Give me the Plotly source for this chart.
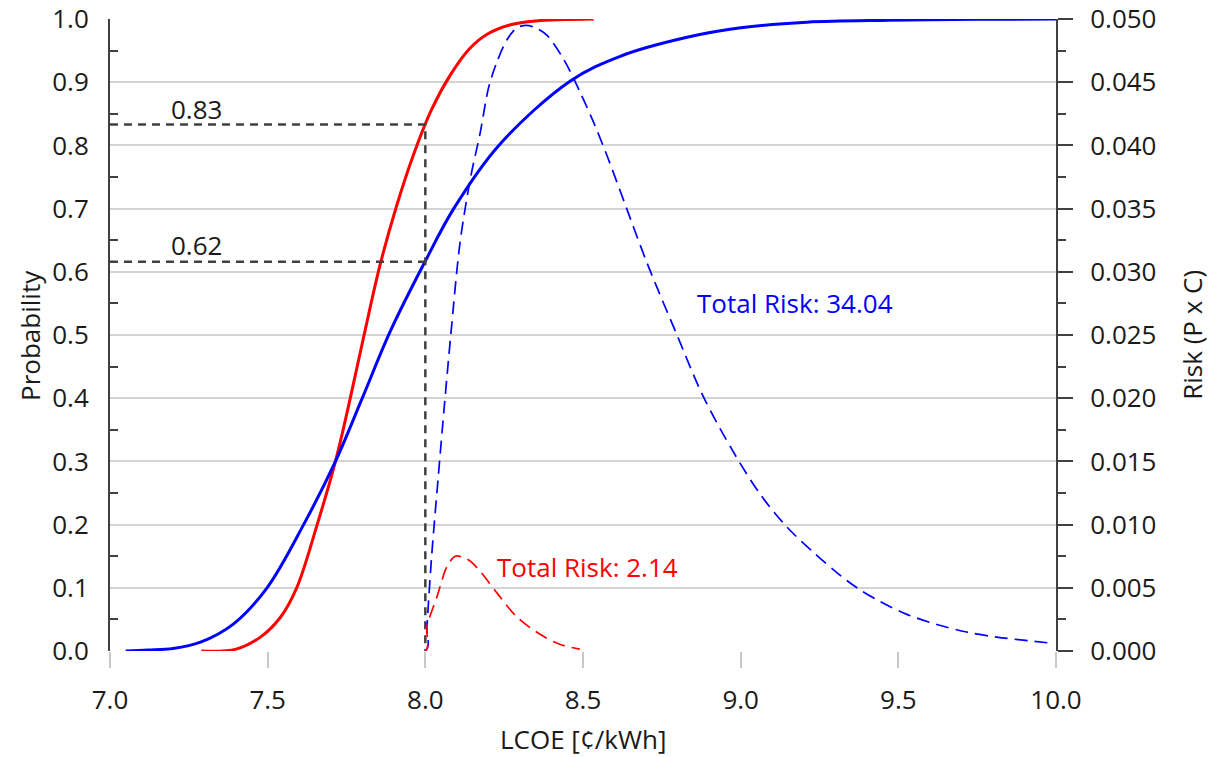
import plotly.graph_objects as go

# ---- data ----
# Cumulative probability curves (left axis)
blue_cdf_x = [7.05, 7.12, 7.20, 7.287, 7.392, 7.498, 7.614, 7.715, 7.80, 7.889, 8.00, 8.09,
              8.233, 8.46, 8.618, 8.83, 9.00, 9.21, 9.47, 9.75, 10.0]
blue_cdf_p = [0.0, 0.0015, 0.004, 0.014, 0.043, 0.10, 0.20, 0.30, 0.40, 0.506, 0.617, 0.70,
              0.80, 0.902, 0.941, 0.971, 0.986, 0.995, 0.998, 0.9995, 1.0]

red_cdf_x = [7.29, 7.40, 7.477, 7.54, 7.592, 7.657, 7.715, 7.762, 7.808, 7.857, 7.91, 7.963,
             8.02, 8.08, 8.14, 8.20, 8.27, 8.35, 8.534]
red_cdf_p = [0.0, 0.003, 0.022, 0.053, 0.10, 0.20, 0.30, 0.40, 0.505, 0.612, 0.706, 0.786,
             0.857, 0.912, 0.953, 0.977, 0.991, 0.997, 1.0]

# Risk curves (right axis, P x C)
blue_risk_x = [7.05, 8.00, 8.005, 8.02, 8.04, 8.06, 8.08, 8.11, 8.143, 8.174, 8.20, 8.227,
               8.26, 8.29, 8.32, 8.35, 8.386, 8.439, 8.491, 8.534, 8.576, 8.64, 8.703, 8.798,
               8.882, 8.978, 9.062, 9.147, 9.231, 9.305, 9.369, 9.443, 9.527, 9.622, 9.717,
               9.812, 9.918, 9.992]
blue_risk_r = [0.0, 0.0, 0.0019, 0.0075, 0.0135, 0.0193, 0.0248, 0.0323, 0.0374, 0.0410,
               0.0445, 0.0466, 0.0484, 0.0493, 0.0495, 0.0493, 0.0487, 0.0468, 0.0442, 0.0418,
               0.0392, 0.0349, 0.0307, 0.0250, 0.0201, 0.0157, 0.0124, 0.0098, 0.0078, 0.0062,
               0.0050, 0.0039, 0.0029, 0.0021, 0.0015, 0.0011, 0.0008, 0.0006]

red_risk_x = [7.29, 8.00, 8.005, 8.037, 8.069, 8.095, 8.12, 8.143, 8.174, 8.227, 8.29,
              8.365, 8.43, 8.49]
red_risk_r = [0.0, 0.0, 0.0019, 0.0043, 0.0067, 0.0075, 0.0074, 0.0071, 0.0063, 0.0046,
              0.0027, 0.0013, 0.0005, 0.00015]

# Reference markers
ref_lcoe = 8.0
ref_probs = [0.833, 0.616]
ref_labels = ["0.83", "0.62"]
x_min, x_max = 7.0, 10.0

risk_labels = ["Total Risk: 34.04", "Total Risk: 2.14"]

FONT = "Open Sans"
FS = 26
TXT = "#1a1a1a"
AX = "#404040"

fig = go.Figure()

# solid CDFs
fig.add_trace(go.Scatter(x=red_cdf_x, y=red_cdf_p, mode="lines",
                         line=dict(color="#ff0000", width=3, shape="spline", smoothing=1.0),
                         hoverinfo="skip", showlegend=False))
fig.add_trace(go.Scatter(x=blue_cdf_x, y=blue_cdf_p, mode="lines",
                         line=dict(color="#0000ff", width=3, shape="spline", smoothing=1.0),
                         hoverinfo="skip", showlegend=False))

# reference dashed lines
fig.add_trace(go.Scatter(x=[x_min, ref_lcoe, ref_lcoe, None, x_min, ref_lcoe],
                         y=[ref_probs[0], ref_probs[0], 0, None, ref_probs[1], ref_probs[1]],
                         mode="lines", line=dict(color=AX, width=2.5, dash="8px,6px"),
                         hoverinfo="skip", showlegend=False))

# risk curves on right axis
fig.add_trace(go.Scatter(x=blue_risk_x, y=blue_risk_r, mode="lines", yaxis="y2",
                         line=dict(color="#0000ff", width=1.7, dash="13px,7px",
                                   shape="spline", smoothing=0.9),
                         hoverinfo="skip", showlegend=False))
fig.add_trace(go.Scatter(x=red_risk_x, y=red_risk_r, mode="lines", yaxis="y2",
                         line=dict(color="#ff0000", width=1.7, dash="13px,7px",
                                   shape="spline", smoothing=0.9),
                         hoverinfo="skip", showlegend=False))

annotations = [
    dict(x=7.274, y=0.858, xref="x", yref="y", text=ref_labels[0], showarrow=False,
         font=dict(family=FONT, size=FS, color=TXT), xanchor="center", yanchor="middle"),
    dict(x=7.274, y=0.643, xref="x", yref="y", text=ref_labels[1], showarrow=False,
         font=dict(family=FONT, size=FS, color=TXT), xanchor="center", yanchor="middle"),
    dict(x=8.855, y=0.551, xref="x", yref="y", text=risk_labels[0], showarrow=False,
         font=dict(family=FONT, size=FS, color="#0000ff"), xanchor="left", yanchor="middle"),
    dict(x=8.22, y=0.133, xref="x", yref="y", text=risk_labels[1], showarrow=False,
         font=dict(family=FONT, size=FS, color="#ff0000"), xanchor="left", yanchor="middle"),
    # axis titles
    dict(x=-0.0846, y=0.5, xref="paper", yref="paper", text="Probability", showarrow=False,
         textangle=-90, font=dict(family=FONT, size=FS, color=TXT),
         xanchor="center", yanchor="middle"),
    dict(x=1.1435, y=0.5, xref="paper", yref="paper", text="Risk (P x C)", showarrow=False,
         textangle=-90, font=dict(family=FONT, size=FS, color=TXT),
         xanchor="center", yanchor="middle"),
    dict(x=0.5, y=-0.139, xref="paper", yref="paper", text="LCOE [¢/kWh]", showarrow=False,
         font=dict(family=FONT, size=FS, color=TXT), xanchor="center", yanchor="middle"),
]

fig.update_layout(
    width=1209, height=757,
    margin=dict(l=110, r=153, t=19, b=106, pad=0, autoexpand=False),
    paper_bgcolor="white", plot_bgcolor="white",
    font=dict(family=FONT, size=FS, color=TXT),
    showlegend=False,
    annotations=annotations,
    xaxis=dict(range=[x_min, x_max], tickmode="linear", tick0=7.0, dtick=0.5,
               tickformat=".1f", showgrid=False, zeroline=False, showline=False,
               ticks="outside", ticklen=16, tickwidth=2, tickcolor="#c8c8c8",
               ticklabelstandoff=10, automargin=False,
               tickfont=dict(family=FONT, size=FS, color=TXT), fixedrange=True),
    yaxis=dict(range=[0, 1.0], tickmode="linear", tick0=0, dtick=0.1, tickformat=".1f",
               showgrid=True, gridcolor="#d4d4d4", gridwidth=2, zeroline=False,
               showline=True, linecolor=AX, linewidth=2, automargin=False,
               ticks="outside", ticklen=14, tickcolor="rgba(0,0,0,0)",
               minor=dict(ticks="inside", ticklen=8, tickwidth=2, tickcolor=AX,
                          tick0=0.05, dtick=0.1, showgrid=False),
               tickfont=dict(family=FONT, size=FS, color=TXT), fixedrange=True),
    yaxis2=dict(range=[0, 0.05], overlaying="y", side="right", anchor="x",
                tickmode="linear", tick0=0, dtick=0.005, tickformat=".3f",
                showgrid=False, zeroline=False, showline=True, linecolor=AX, linewidth=2,
                ticks="outside", ticklen=15, tickwidth=2, tickcolor=AX,
                ticklabelstandoff=12, automargin=False,
                minor=dict(ticks="outside", ticklen=8, tickwidth=2, tickcolor=AX,
                           tick0=0.0025, dtick=0.005, showgrid=False),
                tickfont=dict(family=FONT, size=FS, color=TXT), fixedrange=True),
)

fig.write_html("out.html")
